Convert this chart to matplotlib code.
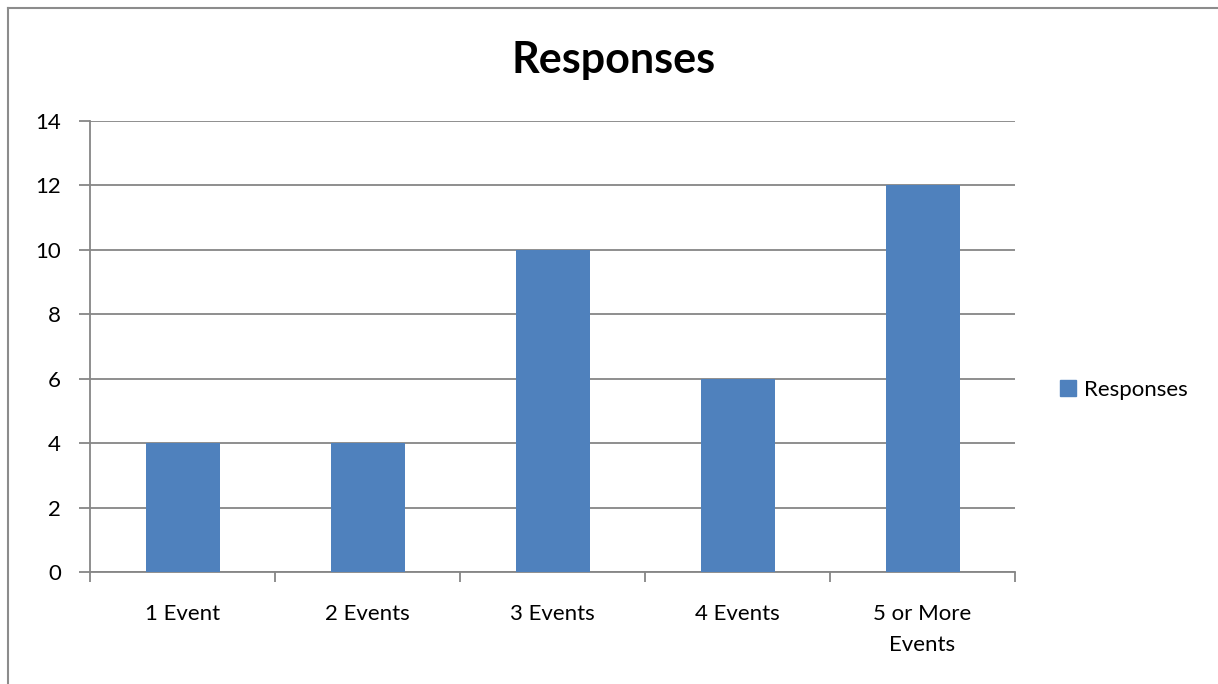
import matplotlib.pyplot as plt
from matplotlib.lines import Line2D
from matplotlib.patches import Patch

categories = ["1 Event", "2 Events", "3 Events", "4 Events", "5 or More\nEvents"]
responses = [4, 4, 10, 6, 12]
y_ticks = [0, 2, 4, 6, 8, 10, 12, 14]

bar_color = "#4F81BD"
grid_color = "#868686"

plt.rcParams["font.family"] = ["Lato", "DejaVu Sans"]

fig = plt.figure(figsize=(12.18, 6.84), dpi=100)
ax = fig.add_axes([90 / 1218, 1 - 572 / 684, (1015 - 90) / 1218, (572 - 121) / 684])

x = list(range(len(categories)))
ax.bar(x, responses, width=0.4, color=bar_color, zorder=3, label="Responses")

ax.set_xlim(-0.5, len(categories) - 0.5)
ax.set_ylim(0, 14)
ax.set_yticks(y_ticks)
ax.set_yticklabels([str(v) for v in y_ticks], fontsize=16)
ax.yaxis.grid(True, color=grid_color, linewidth=1.3, zorder=0)

# category labels centred, tick marks on the boundaries
ax.set_xticks(x)
ax.set_xticklabels(categories, fontsize=16, linespacing=1.7)
ax.tick_params(axis="x", length=0, pad=23)
ax.set_xticks([i - 0.5 for i in range(len(categories) + 1)], minor=True)
ax.tick_params(axis="x", which="minor", length=7, width=1.3, color=grid_color, direction="out")
ax.tick_params(axis="y", length=8, width=1.3, color=grid_color, pad=13)

for side in ["top", "right"]:
    ax.spines[side].set_visible(False)
for side in ["left", "bottom"]:
    ax.spines[side].set_color(grid_color)
    ax.spines[side].set_linewidth(1.3)

fig.text(614 / 1218, 1 - 60 / 684, "Responses", ha="center", va="center",
         fontsize=31, fontweight="bold")

handle = Patch(facecolor=bar_color, edgecolor=bar_color)
fig.legend([handle], ["Responses"], loc="center left", bbox_to_anchor=(1040 / 1218, 1 - 390 / 684),
           frameon=False, fontsize=16, handlelength=0.7, handleheight=0.7, handletextpad=0.4)

# chart frame (only left and top edges show in the crop)
fig.add_artist(Line2D([8 / 1218, 8 / 1218], [0, 1 - 8 / 684], transform=fig.transFigure,
                      color="#8c8c8c", linewidth=1.5))
fig.add_artist(Line2D([8 / 1218, 1], [1 - 8 / 684, 1 - 8 / 684], transform=fig.transFigure,
                      color="#8c8c8c", linewidth=1.5))

fig.savefig("out.png", dpi=100)
